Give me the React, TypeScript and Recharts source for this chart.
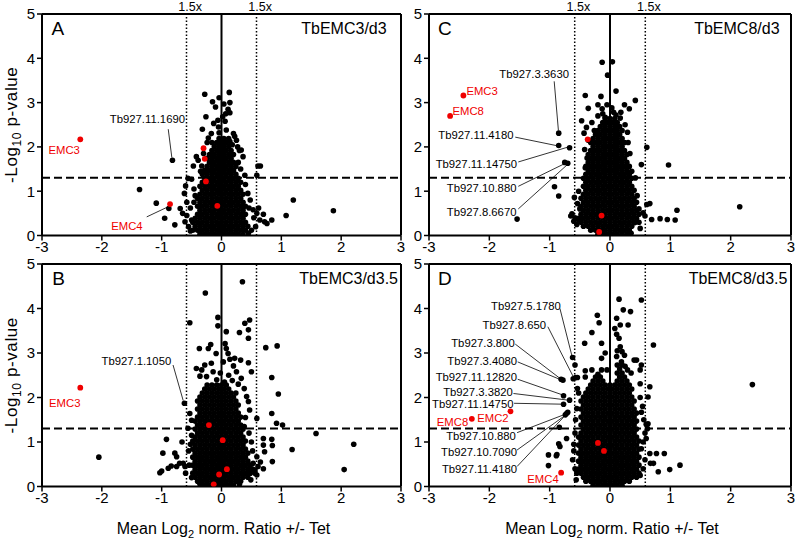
import React from 'react';
import { ScatterChart, Scatter, XAxis, YAxis, ReferenceLine, ReferenceDot } from 'recharts';

const FONT = '"Liberation Sans", Arial, Helvetica, sans-serif';
const xTicks = [-3, -2, -1, 0, 1, 2, 3];
const yTicks = [0, 1, 2, 3, 4, 5];
const foldChange = 0.585; // log2(1.5)
const pThreshold = 1.301; // -log10(0.05)

type Pt = [number, number];
type Row = [number, number[]];
type Note = { text: string; x: number; y: number; pos: 'left' | 'right' | 'center'; red?: boolean };
type Seg = [number, number, number, number];

// ---------- Panel A: TbEMC3/d3 ----------
const aCoreRows: Row[] = [
  [0.03, [-0.36, -0.28, -0.2, -0.12, -0.04, 0.04, 0.12, 0.2, 0.28]],
  [0.12, [-0.48, -0.4, -0.32, -0.24, -0.16, -0.08, 0, 0.08, 0.16, 0.24, 0.32, 0.4]],
  [0.21, [-0.44, -0.36, -0.28, -0.2, -0.12, -0.04, 0.04, 0.12, 0.2, 0.28, 0.36, 0.44]],
  [0.3, [-0.48, -0.4, -0.32, -0.24, -0.16, -0.08, 0, 0.08, 0.16, 0.24, 0.32, 0.4]],
  [0.39, [-0.44, -0.36, -0.28, -0.2, -0.12, -0.04, 0.04, 0.12, 0.2, 0.28, 0.36]],
  [0.48, [-0.4, -0.32, -0.24, -0.16, -0.08, 0, 0.08, 0.16, 0.24, 0.32, 0.4]],
  [0.57, [-0.36, -0.28, -0.2, -0.12, -0.04, 0.04, 0.12, 0.2, 0.28, 0.36]],
  [0.66, [-0.4, -0.32, -0.24, -0.16, -0.08, 0, 0.08, 0.16, 0.24, 0.32, 0.4]],
  [0.75, [-0.36, -0.28, -0.2, -0.12, -0.04, 0.04, 0.12, 0.2, 0.28, 0.36]],
  [0.84, [-0.4, -0.32, -0.24, -0.16, -0.08, 0, 0.08, 0.16, 0.24, 0.32]],
  [0.93, [-0.36, -0.28, -0.2, -0.12, -0.04, 0.04, 0.12, 0.2, 0.28, 0.36]],
  [1.02, [-0.32, -0.24, -0.16, -0.08, 0, 0.08, 0.16, 0.24, 0.32]],
  [1.11, [-0.36, -0.28, -0.2, -0.12, -0.04, 0.04, 0.12, 0.2, 0.28]],
  [1.2, [-0.32, -0.24, -0.16, -0.08, 0, 0.08, 0.16, 0.24, 0.32]],
  [1.29, [-0.28, -0.2, -0.12, -0.04, 0.04, 0.12, 0.2, 0.28]],
  [1.38, [-0.32, -0.24, -0.16, -0.08, 0, 0.08, 0.16, 0.24]],
  [1.47, [-0.28, -0.2, -0.12, -0.04, 0.04, 0.12, 0.2]],
  [1.56, [-0.24, -0.16, -0.08, 0, 0.08, 0.16, 0.24]],
  [1.65, [-0.2, -0.12, -0.04, 0.04, 0.12, 0.2]],
  [1.74, [-0.24, -0.16, -0.08, 0, 0.08, 0.16]],
  [1.83, [-0.2, -0.12, -0.04, 0.04, 0.12, 0.2]],
  [1.92, [-0.16, -0.08, 0, 0.08, 0.16]],
  [2.01, [-0.12, -0.04, 0.04, 0.12]],
  [2.1, [-0.16, -0.08, 0, 0.08]],
  [2.19, [-0.04, 0.04, 0.12]],
];
const aBlack: Pt[] = [
  [-0.28, 3.19], [0.13, 3.23], [-0.04, 3.11], [-0.15, 3.02], [0.14, 3.0], [0.11, 2.85], [-0.26, 2.68], [0.07, 2.75],
  [0.14, 2.77], [-0.06, 2.6], [0.06, 2.58], [-0.13, 2.53], [-0.32, 2.4], [-0.17, 2.3], [-0.04, 2.32], [0.08, 2.38],
  [0.22, 2.24], [0.25, 2.15], [0.14, 2.12], [-0.05, 2.45], [0.2, 2.3], [0.02, 2.68], [-0.22, 2.2], [-0.1, 2.9],
  [0.04, 2.97], [-0.24, 2.1], [0.18, 2.05], [0.27, 2.0], [0.3, 1.92],
  [-0.42, 1.78], [-0.39, 1.7], [-0.47, 1.57], [-0.33, 1.57], [0.36, 1.78], [0.33, 1.93], [0.61, 1.57], [0.65, 1.57],
  [0.59, 1.36], [0.39, 1.36], [-0.56, 1.29], [-0.5, 1.27], [-0.6, 1.12], [-0.46, 1.05], [-0.44, 0.9], [0.4, 1.15],
  [0.44, 0.95], [0.48, 0.8], [0.46, 0.62], [-0.46, 0.75], [-0.52, 0.62], [-0.35, 1.45], [0.32, 1.5], [-0.3, 1.85], [0.28, 1.65],
  [-0.82, 1.7], [-1.37, 1.04], [-1.09, 0.73], [-0.88, 0.61], [-0.95, 0.39], [-0.78, 0.24], [-0.69, 0.61], [-0.65, 0.5],
  [-0.61, 0.31], [-0.55, 0.2], [-0.58, 0.45], [-0.62, 0.95], [-0.58, 0.75], [1.2, 0.8], [1.08, 0.45], [1.87, 0.56],
  [0.7, 0.48], [0.72, 0.31], [0.84, 0.35], [0.76, 0.27], [0.62, 0.62], [0.57, 0.2], [0.54, 0.4], [0.5, 0.12],
  [0.53, 0.58], [0.59, 0.5], [0.64, 0.35], [-0.5, 0.35], [-0.52, 0.1], [0.45, 0.05], [0.36, 0.02],
];
const aRed: Pt[] = [[-2.36, 2.17], [-0.86, 0.71], [-0.3, 1.97], [-0.28, 1.73], [-0.26, 1.22], [-0.07, 0.67]];
const aNotes: Note[] = [
  { text: 'Tb927.11.1690', x: -0.61, y: 2.63, pos: 'left' },
  { text: 'EMC3', x: -2.63, y: 1.92, pos: 'center', red: true },
  { text: 'EMC4', x: -1.58, y: 0.21, pos: 'center', red: true },
];
const aLeaders: Seg[] = [[-0.89, 2.4, -0.83, 1.76], [-1.25, 0.42, -0.89, 0.65]];

// ---------- Panel B: TbEMC3/d3.5 ----------
const bCoreRows: Row[] = [
  [0.03, [-0.28, -0.2, -0.12, -0.04, 0.04, 0.12, 0.2]],
  [0.12, [-0.4, -0.32, -0.24, -0.16, -0.08, 0, 0.08, 0.16, 0.24, 0.32]],
  [0.21, [-0.44, -0.36, -0.28, -0.2, -0.12, -0.04, 0.04, 0.12, 0.2, 0.28, 0.36, 0.44]],
  [0.3, [-0.48, -0.4, -0.32, -0.24, -0.16, -0.08, 0, 0.08, 0.16, 0.24, 0.32, 0.4, 0.48, 0.56]],
  [0.39, [-0.44, -0.36, -0.28, -0.2, -0.12, -0.04, 0.04, 0.12, 0.2, 0.28, 0.36, 0.44, 0.52]],
  [0.48, [-0.48, -0.4, -0.32, -0.24, -0.16, -0.08, 0, 0.08, 0.16, 0.24, 0.32, 0.4, 0.48]],
  [0.57, [-0.44, -0.36, -0.28, -0.2, -0.12, -0.04, 0.04, 0.12, 0.2, 0.28, 0.36, 0.44]],
  [0.66, [-0.48, -0.4, -0.32, -0.24, -0.16, -0.08, 0, 0.08, 0.16, 0.24, 0.32, 0.4]],
  [0.75, [-0.44, -0.36, -0.28, -0.2, -0.12, -0.04, 0.04, 0.12, 0.2, 0.28, 0.36, 0.44]],
  [0.84, [-0.48, -0.4, -0.32, -0.24, -0.16, -0.08, 0, 0.08, 0.16, 0.24, 0.32, 0.4]],
  [0.93, [-0.44, -0.36, -0.28, -0.2, -0.12, -0.04, 0.04, 0.12, 0.2, 0.28, 0.36]],
  [1.02, [-0.48, -0.4, -0.32, -0.24, -0.16, -0.08, 0, 0.08, 0.16, 0.24, 0.32, 0.4]],
  [1.11, [-0.44, -0.36, -0.28, -0.2, -0.12, -0.04, 0.04, 0.12, 0.2, 0.28, 0.36]],
  [1.2, [-0.4, -0.32, -0.24, -0.16, -0.08, 0, 0.08, 0.16, 0.24, 0.32]],
  [1.29, [-0.44, -0.36, -0.28, -0.2, -0.12, -0.04, 0.04, 0.12, 0.2, 0.28, 0.36]],
  [1.38, [-0.4, -0.32, -0.24, -0.16, -0.08, 0, 0.08, 0.16, 0.24, 0.32]],
  [1.47, [-0.44, -0.36, -0.28, -0.2, -0.12, -0.04, 0.04, 0.12, 0.2, 0.28]],
  [1.56, [-0.4, -0.32, -0.24, -0.16, -0.08, 0, 0.08, 0.16, 0.24, 0.32]],
  [1.65, [-0.36, -0.28, -0.2, -0.12, -0.04, 0.04, 0.12, 0.2, 0.28]],
  [1.74, [-0.4, -0.32, -0.24, -0.16, -0.08, 0, 0.08, 0.16, 0.24]],
  [1.83, [-0.36, -0.28, -0.2, -0.12, -0.04, 0.04, 0.12, 0.2, 0.28]],
  [1.92, [-0.4, -0.32, -0.24, -0.16, -0.08, 0, 0.08, 0.16, 0.24]],
  [2.01, [-0.36, -0.28, -0.2, -0.12, -0.04, 0.04, 0.12, 0.2]],
  [2.1, [-0.32, -0.24, -0.16, -0.08, 0, 0.08, 0.16, 0.24]],
  [2.19, [-0.28, -0.2, -0.12, -0.04, 0.04, 0.12]],
  [2.28, [-0.24, -0.16, -0.08, 0, 0.08]],
];
const bBlack: Pt[] = [
  [-0.53, 3.68], [-0.27, 4.35], [0.35, 4.6], [-0.06, 3.8], [-0.06, 3.61], [0.08, 3.48], [0.39, 3.67], [0.47, 3.74],
  [0.3, 3.46], [0.45, 3.52], [0.45, 3.33], [-0.37, 3.1], [-0.22, 3.1], [-0.18, 3.19], [-0.09, 2.99], [0.06, 3.21],
  [0.08, 3.1], [0.11, 2.99], [0.14, 2.86], [0.22, 2.88], [0.32, 2.84], [0.45, 2.78], [0.2, 2.71], [0.03, 2.8],
  [-0.42, 2.65], [-0.33, 2.62], [-0.28, 2.73], [-0.17, 2.77], [-0.14, 2.58], [-0.25, 2.47], [-0.36, 2.48], [0.25, 2.58],
  [0.33, 2.43], [0.5, 2.58], [-0.02, 2.55], [0.12, 2.5], [0.18, 2.38], [-0.08, 2.4], [0.05, 2.35], [0.28, 2.3], [0.38, 2.2],
  [0.74, 3.12], [0.93, 3.16], [0.84, 2.45], [0.95, 2.08], [0.84, 1.64], [0.92, 1.42], [1.02, 1.38], [1.58, 1.19],
  [1.18, 0.83], [2.21, 0.95], [2.05, 0.38], [-2.05, 0.66],
  [0.42, 2.02], [0.45, 1.91], [0.47, 1.72], [0.59, 1.53], [0.4, 1.55], [0.38, 1.35],
  [-0.62, 1.87], [-0.53, 1.64], [-0.5, 1.49], [-0.56, 1.31], [-0.5, 1.15], [-0.52, 0.95], [-0.55, 0.8],
  [-0.92, 1.06], [-0.66, 1.0], [-0.98, 0.75], [-0.78, 0.75], [-0.75, 0.67], [-0.64, 0.52], [-1.0, 0.35], [-1.03, 0.31],
  [-0.89, 0.41], [-0.75, 0.45], [-0.84, 0.46], [-0.7, 0.52], [-0.61, 0.45], [-0.54, 0.48], [-0.6, 0.3], [-0.5, 0.2],
  [0.7, 1.08], [0.84, 1.06], [0.7, 0.93], [0.85, 0.92], [0.72, 0.78], [0.85, 0.56], [0.59, 0.67], [0.53, 0.52],
  [0.61, 0.45], [0.56, 0.37], [0.47, 0.3], [0.59, 0.26], [0.49, 0.15], [0.52, 0.8], [0.5, 1.0], [0.46, 1.2],
  [0.65, 0.55], [0.7, 0.4], [0.3, 0.05], [-0.36, 0.05],
];
const bRed: Pt[] = [[-2.36, 2.22], [-0.21, 1.38], [0.02, 1.04], [0.09, 0.39], [-0.04, 0.27], [-0.13, 0.05]];
const bNotes: Note[] = [
  { text: 'Tb927.1.1050', x: -0.84, y: 2.83, pos: 'left' },
  { text: 'EMC3', x: -2.62, y: 1.88, pos: 'center', red: true },
];
const bLeaders: Seg[] = [[-0.81, 2.73, -0.64, 1.93]];

// ---------- Panel C: TbEMC8/d3 ----------
const cCoreRows: Row[] = [
  [0.03, [-0.2, -0.12, -0.04, 0.04, 0.12, 0.2, 0.28]],
  [0.12, [-0.32, -0.24, -0.16, -0.08, 0, 0.08, 0.16, 0.24, 0.32]],
  [0.21, [-0.44, -0.36, -0.28, -0.2, -0.12, -0.04, 0.04, 0.12, 0.2, 0.28, 0.36]],
  [0.3, [-0.48, -0.4, -0.32, -0.24, -0.16, -0.08, 0, 0.08, 0.16, 0.24, 0.32, 0.4, 0.48]],
  [0.39, [-0.52, -0.44, -0.36, -0.28, -0.2, -0.12, -0.04, 0.04, 0.12, 0.2, 0.28, 0.36, 0.44]],
  [0.48, [-0.48, -0.4, -0.32, -0.24, -0.16, -0.08, 0, 0.08, 0.16, 0.24, 0.32, 0.4, 0.48]],
  [0.57, [-0.44, -0.36, -0.28, -0.2, -0.12, -0.04, 0.04, 0.12, 0.2, 0.28, 0.36, 0.44]],
  [0.66, [-0.48, -0.4, -0.32, -0.24, -0.16, -0.08, 0, 0.08, 0.16, 0.24, 0.32, 0.4]],
  [0.75, [-0.44, -0.36, -0.28, -0.2, -0.12, -0.04, 0.04, 0.12, 0.2, 0.28, 0.36, 0.44]],
  [0.84, [-0.48, -0.4, -0.32, -0.24, -0.16, -0.08, 0, 0.08, 0.16, 0.24, 0.32, 0.4]],
  [0.93, [-0.44, -0.36, -0.28, -0.2, -0.12, -0.04, 0.04, 0.12, 0.2, 0.28, 0.36]],
  [1.02, [-0.4, -0.32, -0.24, -0.16, -0.08, 0, 0.08, 0.16, 0.24, 0.32, 0.4]],
  [1.11, [-0.44, -0.36, -0.28, -0.2, -0.12, -0.04, 0.04, 0.12, 0.2, 0.28, 0.36]],
  [1.2, [-0.4, -0.32, -0.24, -0.16, -0.08, 0, 0.08, 0.16, 0.24, 0.32]],
  [1.29, [-0.44, -0.36, -0.28, -0.2, -0.12, -0.04, 0.04, 0.12, 0.2, 0.28, 0.36]],
  [1.38, [-0.4, -0.32, -0.24, -0.16, -0.08, 0, 0.08, 0.16, 0.24, 0.32]],
  [1.47, [-0.36, -0.28, -0.2, -0.12, -0.04, 0.04, 0.12, 0.2, 0.28]],
  [1.56, [-0.4, -0.32, -0.24, -0.16, -0.08, 0, 0.08, 0.16, 0.24, 0.32]],
  [1.65, [-0.36, -0.28, -0.2, -0.12, -0.04, 0.04, 0.12, 0.2, 0.28]],
  [1.74, [-0.32, -0.24, -0.16, -0.08, 0, 0.08, 0.16, 0.24]],
  [1.83, [-0.36, -0.28, -0.2, -0.12, -0.04, 0.04, 0.12, 0.2, 0.28]],
  [1.92, [-0.32, -0.24, -0.16, -0.08, 0, 0.08, 0.16, 0.24]],
  [2.01, [-0.28, -0.2, -0.12, -0.04, 0.04, 0.12, 0.2]],
  [2.1, [-0.32, -0.24, -0.16, -0.08, 0, 0.08, 0.16, 0.24]],
  [2.19, [-0.28, -0.2, -0.12, -0.04, 0.04, 0.12, 0.2]],
  [2.28, [-0.24, -0.16, -0.08, 0, 0.08, 0.16]],
  [2.37, [-0.2, -0.12, -0.04, 0.04, 0.12, 0.2]],
  [2.46, [-0.16, -0.08, 0, 0.08, 0.16]],
  [2.55, [-0.12, -0.04, 0.04, 0.12]],
  [2.64, [-0.08, 0, 0.08]],
];
const cBlack: Pt[] = [
  [-0.13, 3.91], [0.04, 3.92], [-0.04, 3.62], [-0.41, 3.16], [-0.15, 3.14], [0.1, 3.26], [0.42, 3.05], [-0.36, 2.87],
  [-0.13, 2.86], [0.03, 2.88], [0.24, 2.95], [0.32, 2.86], [-0.47, 2.59], [-0.39, 2.44], [-0.43, 2.31], [-0.26, 2.37],
  [-0.08, 2.67], [0.29, 2.33], [0.17, 2.65], [-0.42, 1.94], [0.61, 1.99], [0.52, 1.6], [0.97, 1.59], [-0.41, 1.53],
  [-0.05, 2.95], [0.18, 2.78], [-0.2, 2.7], [0.06, 2.78], [0.25, 2.5], [-0.3, 2.55], [-0.2, 2.95], [0.1, 2.72],
  [-0.12, 2.75], [0.3, 2.1], [-0.36, 2.15], [0.33, 1.85], [-0.38, 1.75], [0.36, 1.45],
  [-0.59, 0.86], [-0.54, 0.72], [-0.63, 0.49], [-0.58, 0.4], [-0.52, 0.35], [-0.6, 0.32], [-0.55, 0.25], [-0.5, 0.6], [-0.52, 1.0],
  [0.61, 0.7], [0.66, 0.72], [0.55, 0.51], [0.58, 0.44], [0.69, 0.36], [0.83, 0.38], [0.95, 0.36], [1.08, 0.35],
  [1.11, 0.57], [0.5, 0.16], [0.41, 0.29], [0.48, 0.6], [0.45, 0.9], [0.42, 1.3], [0.35, 0.05],
  [-0.85, 2.31], [-0.85, 2.03], [-0.67, 1.98], [-0.75, 1.65], [-0.7, 1.63], [-0.92, 1.1], [-0.85, 0.89], [-1.54, 0.37],
  [2.15, 0.65], [-0.65, 0.44],
];
const cRed: Pt[] = [[-2.43, 3.16], [-2.65, 2.7], [-0.37, 2.17], [-0.14, 0.45], [-0.18, 0.08]];
const cNotes: Note[] = [
  { text: 'Tb927.3.3630', x: -0.68, y: 3.65, pos: 'left' },
  { text: 'EMC3', x: -2.38, y: 3.27, pos: 'right', red: true },
  { text: 'EMC8', x: -2.61, y: 2.8, pos: 'right', red: true },
  { text: 'Tb927.11.4180', x: -1.6, y: 2.26, pos: 'left' },
  { text: 'Tb927.11.14750', x: -1.54, y: 1.62, pos: 'left' },
  { text: 'Tb927.10.880', x: -1.55, y: 1.08, pos: 'left' },
  { text: 'Tb927.8.6670', x: -1.55, y: 0.53, pos: 'left' },
];
const cLeaders: Seg[] = [
  [-0.925, 3.48, -0.855, 2.37], [-1.57, 2.22, -0.89, 2.03], [-1.52, 1.66, -0.71, 1.99],
  [-1.52, 1.11, -0.74, 1.63], [-1.52, 0.6, -0.69, 1.62],
];

// ---------- Panel D: TbEMC8/d3.5 ----------
const dCoreRows: Row[] = [
  [0.03, [-0.28, -0.2, -0.12, -0.04, 0.04, 0.12, 0.2]],
  [0.12, [-0.4, -0.32, -0.24, -0.16, -0.08, 0, 0.08, 0.16, 0.24, 0.32]],
  [0.21, [-0.44, -0.36, -0.28, -0.2, -0.12, -0.04, 0.04, 0.12, 0.2, 0.28, 0.36, 0.44]],
  [0.3, [-0.48, -0.4, -0.32, -0.24, -0.16, -0.08, 0, 0.08, 0.16, 0.24, 0.32, 0.4, 0.48]],
  [0.39, [-0.52, -0.44, -0.36, -0.28, -0.2, -0.12, -0.04, 0.04, 0.12, 0.2, 0.28, 0.36, 0.44]],
  [0.48, [-0.48, -0.4, -0.32, -0.24, -0.16, -0.08, 0, 0.08, 0.16, 0.24, 0.32, 0.4, 0.48]],
  [0.57, [-0.52, -0.44, -0.36, -0.28, -0.2, -0.12, -0.04, 0.04, 0.12, 0.2, 0.28, 0.36, 0.44]],
  [0.66, [-0.48, -0.4, -0.32, -0.24, -0.16, -0.08, 0, 0.08, 0.16, 0.24, 0.32, 0.4, 0.48]],
  [0.75, [-0.52, -0.44, -0.36, -0.28, -0.2, -0.12, -0.04, 0.04, 0.12, 0.2, 0.28, 0.36, 0.44]],
  [0.84, [-0.48, -0.4, -0.32, -0.24, -0.16, -0.08, 0, 0.08, 0.16, 0.24, 0.32, 0.4, 0.48]],
  [0.93, [-0.52, -0.44, -0.36, -0.28, -0.2, -0.12, -0.04, 0.04, 0.12, 0.2, 0.28, 0.36, 0.44]],
  [1.02, [-0.48, -0.4, -0.32, -0.24, -0.16, -0.08, 0, 0.08, 0.16, 0.24, 0.32, 0.4, 0.48]],
  [1.11, [-0.52, -0.44, -0.36, -0.28, -0.2, -0.12, -0.04, 0.04, 0.12, 0.2, 0.28, 0.36, 0.44]],
  [1.2, [-0.48, -0.4, -0.32, -0.24, -0.16, -0.08, 0, 0.08, 0.16, 0.24, 0.32, 0.4]],
  [1.29, [-0.44, -0.36, -0.28, -0.2, -0.12, -0.04, 0.04, 0.12, 0.2, 0.28, 0.36, 0.44]],
  [1.38, [-0.48, -0.4, -0.32, -0.24, -0.16, -0.08, 0, 0.08, 0.16, 0.24, 0.32, 0.4]],
  [1.47, [-0.44, -0.36, -0.28, -0.2, -0.12, -0.04, 0.04, 0.12, 0.2, 0.28, 0.36, 0.44]],
  [1.56, [-0.48, -0.4, -0.32, -0.24, -0.16, -0.08, 0, 0.08, 0.16, 0.24, 0.32, 0.4]],
  [1.65, [-0.44, -0.36, -0.28, -0.2, -0.12, -0.04, 0.04, 0.12, 0.2, 0.28, 0.36, 0.44]],
  [1.74, [-0.48, -0.4, -0.32, -0.24, -0.16, -0.08, 0, 0.08, 0.16, 0.24, 0.32, 0.4]],
  [1.83, [-0.44, -0.36, -0.28, -0.2, -0.12, -0.04, 0.04, 0.12, 0.2, 0.28, 0.36]],
  [1.92, [-0.48, -0.4, -0.32, -0.24, -0.16, -0.08, 0, 0.08, 0.16, 0.24, 0.32, 0.4]],
  [2.01, [-0.44, -0.36, -0.28, -0.2, -0.12, -0.04, 0.04, 0.12, 0.2, 0.28, 0.36]],
  [2.1, [-0.4, -0.32, -0.24, -0.16, -0.08, 0, 0.08, 0.16, 0.24, 0.32]],
  [2.19, [-0.36, -0.28, -0.2, -0.12, -0.04, 0.04, 0.12, 0.2, 0.28, 0.36]],
  [2.28, [-0.32, -0.24, -0.16, -0.08, 0, 0.08, 0.16, 0.24, 0.32]],
  [2.37, [-0.28, -0.2, -0.12, 0.12, 0.2, 0.28]],
  [2.46, [-0.24, -0.16, 0.16, 0.24]],
  [2.55, [0.12, 0.2]],
  [2.64, [0.16]],
  [2.73, [0.12, 0.2]],
];
const dBlack: Pt[] = [
  [-0.21, 3.85], [-0.18, 3.68], [-0.3, 3.46], [-0.42, 3.22], [-0.14, 3.22], [0.22, 3.97], [0.15, 4.21], [0.52, 4.19],
  [0.34, 3.93], [0.11, 3.78], [0.17, 3.63], [0.3, 3.63], [0.11, 3.42], [0.15, 3.33], [0.72, 3.18], [0.17, 3.14],
  [0.2, 3.03], [0.11, 2.92], [0.19, 2.8], [0.44, 2.84], [0.5, 2.62], [0.29, 2.62], [-0.3, 2.62], [-0.14, 2.62],
  [-0.41, 2.6], [-0.54, 2.45], [-0.14, 2.88], [0.4, 2.84], [0.52, 2.73], [-0.41, 2.46], [0.5, 2.31], [0.66, 2.24],
  [0.63, 2.01], [0.52, 1.67], [0.63, 1.41], [0.25, 2.7], [-0.05, 2.62], [-0.2, 2.52], [0.35, 2.55], [0.12, 3.05],
  [0.24, 2.95], [0.08, 3.55], [-0.08, 3.0],
  [-0.62, 2.9], [-0.58, 2.73], [-0.61, 2.42], [-0.57, 2.45], [-0.81, 2.41], [-0.78, 2.39], [-0.77, 2.04], [-0.67, 1.94],
  [-0.77, 1.85], [-0.72, 1.64], [-0.74, 1.61], [-0.7, 1.67], [-0.84, 1.33], [-0.72, 1.08], [-0.83, 0.9], [-0.85, 0.96],
  [-1.02, 0.71], [-0.89, 0.69], [-0.88, 0.72], [-1.02, 0.47],
  [-0.58, 1.2], [-0.6, 0.95], [-0.62, 0.6], [-0.58, 0.4], [-0.55, 0.3], [-0.6, 0.8], [-0.57, 1.5], [-0.55, 1.75],
  [-0.52, 2.1], [-0.56, 0.15], [-0.54, 2.2],
  [2.36, 2.29], [0.56, 1.5], [0.6, 1.4], [0.6, 1.08], [0.58, 1.2], [0.66, 0.74], [0.77, 0.74], [0.9, 0.74],
  [0.67, 0.52], [0.72, 0.52], [0.8, 0.33], [0.99, 0.38], [1.16, 0.48], [0.62, 1.3], [0.55, 1.0], [0.52, 0.85],
  [0.55, 0.4], [0.5, 0.25], [0.58, 0.6], [0.54, 1.8], [0.5, 2.0],
];
const dRed: Pt[] = [[-2.29, 1.52], [-1.65, 1.69], [-0.81, 0.31], [-0.2, 0.98], [-0.1, 0.8]];
const dNotes: Note[] = [
  { text: 'Tb927.5.1780', x: -0.815, y: 4.06, pos: 'left' },
  { text: 'Tb927.8.650', x: -1.06, y: 3.63, pos: 'left' },
  { text: 'Tb927.3.800', x: -1.58, y: 3.22, pos: 'left' },
  { text: 'Tb927.3.4080', x: -1.54, y: 2.82, pos: 'left' },
  { text: 'Tb927.11.12820', x: -1.54, y: 2.45, pos: 'left' },
  { text: 'Tb927.3.3820', x: -1.61, y: 2.13, pos: 'left' },
  { text: 'Tb927.11.14750', x: -1.6, y: 1.85, pos: 'left' },
  { text: 'Tb927.10.880', x: -1.56, y: 1.14, pos: 'left' },
  { text: 'Tb927.10.7090', x: -1.54, y: 0.77, pos: 'left' },
  { text: 'Tb927.11.4180', x: -1.54, y: 0.39, pos: 'left' },
  { text: 'EMC8', x: -2.35, y: 1.44, pos: 'left', red: true },
  { text: 'EMC2', x: -2.2, y: 1.54, pos: 'right', red: true },
  { text: 'EMC4', x: -0.85, y: 0.18, pos: 'left', red: true },
];
const dLeaders: Seg[] = [
  [-0.83, 4.0, -0.63, 2.93], [-1.03, 3.59, -0.61, 2.47], [-1.57, 3.2, -0.83, 2.43], [-1.53, 2.8, -0.8, 2.39],
  [-1.53, 2.41, -0.79, 2.06], [-1.6, 2.09, -0.69, 1.94], [-1.59, 1.87, -0.79, 1.85], [-1.54, 1.21, -0.73, 1.63],
  [-1.54, 0.82, -0.72, 1.62], [-1.54, 0.45, -0.74, 1.6],
];

type PanelDef = {
  left: number; top: number; width: number; height: number;
  margin: { top: number; right: number; bottom: number; left: number };
  letter: string; letterX: number; title: string; titleX: number;
  core: Row[]; black: Pt[]; red: Pt[]; notes: Note[]; leaders: Seg[];
  yTitle: boolean; xTitle: boolean; foldLabels: boolean;
};

const panels: PanelDef[] = [
  { left: 0, top: 0, width: 420, height: 260, margin: { top: 14, right: 19, bottom: 4.5, left: 2 },
    letter: 'A', letterX: -2.84, title: 'TbEMC3/d3', titleX: 2.76,
    core: aCoreRows, black: aBlack, red: aRed, notes: aNotes, leaders: aLeaders, yTitle: true, xTitle: false, foldLabels: true },
  { left: 0, top: 250, width: 420, height: 289, margin: { top: 14, right: 19, bottom: 32.5, left: 2 },
    letter: 'B', letterX: -2.83, title: 'TbEMC3/d3.5', titleX: 2.95,
    core: bCoreRows, black: bBlack, red: bRed, notes: bNotes, leaders: bLeaders, yTitle: true, xTitle: true, foldLabels: false },
  { left: 385, top: 0, width: 410, height: 260, margin: { top: 14, right: 4, bottom: 4.5, left: 4 },
    letter: 'C', letterX: -2.85, title: 'TbEMC8/d3', titleX: 2.81,
    core: cCoreRows, black: cBlack, red: cRed, notes: cNotes, leaders: cLeaders, yTitle: false, xTitle: false, foldLabels: true },
  { left: 385, top: 250, width: 410, height: 289, margin: { top: 14, right: 4, bottom: 32.5, left: 4 },
    letter: 'D', letterX: -2.85, title: 'TbEMC8/d3.5', titleX: 2.94,
    core: dCoreRows, black: dBlack, red: dRed, notes: dNotes, leaders: dLeaders, yTitle: false, xTitle: true, foldLabels: false },
];

const RED = '#f00000';

const blackDot = (p: any) => (p.cx == null ? <g /> : <circle cx={p.cx} cy={p.cy} r={2.8} fill="#000" />);
const redDot = (p: any) => (p.cx == null ? <g /> : <circle cx={p.cx} cy={p.cy} r={2.9} fill={RED} />);

const xTitleLabel = (props: any) => {
  const vb = props.viewBox || { x: 0, y: 0, width: 0 };
  const cx = vb.x + vb.width / 2 + 2;
  const y = vb.y + 47.5;
  return (
    <text x={cx} y={y} textAnchor="middle" fontSize={16} fill="#000" fontFamily={FONT}>
      Mean Log<tspan fontSize={11} dy={4}>2</tspan><tspan dy={-4}>{' norm. Ratio +/- Tet'}</tspan>
    </text>
  );
};

const yTitleLabel = (props: any) => {
  const vb = props.viewBox || { x: 0, y: 0, height: 0 };
  const x = vb.x + 15;
  const y = vb.y + vb.height / 2;
  return (
    <text x={x} y={y} transform={`rotate(-90 ${x} ${y})`} textAnchor="middle" fontSize={17} fill="#000"
      letterSpacing={0.6} fontFamily={FONT}>
      -Log<tspan fontSize={12} dy={4}>10</tspan><tspan dy={-4}>{' p-value'}</tspan>
    </text>
  );
};

function Panel({ d }: { d: PanelDef }) {
  const blackData = [
    ...d.core.flatMap(([y, xs]) => xs.map((x) => ({ x, y }))),
    ...d.black.map(([x, y]) => ({ x, y })),
  ];
  const redData = d.red.map(([x, y]) => ({ x, y }));
  return (
    <div style={{ position: 'absolute', left: d.left, top: d.top }}>
      <ScatterChart width={d.width} height={d.height} margin={d.margin}>
        <XAxis type="number" dataKey="x" domain={[-3, 3]} ticks={xTicks} interval={0} allowDataOverflow
          axisLine={{ stroke: '#000', strokeWidth: 2 }} tickLine={{ stroke: '#000', strokeWidth: 1.5 }}
          tickSize={5} tickMargin={1} tick={{ fill: '#000', fontSize: 15 }} height={20}
          label={d.xTitle ? xTitleLabel : undefined} />
        <YAxis type="number" dataKey="y" domain={[0, 5]} ticks={yTicks} interval={0} allowDataOverflow width={40}
          axisLine={{ stroke: '#000', strokeWidth: 2 }} tickLine={{ stroke: '#000', strokeWidth: 1.5 }}
          tickSize={5} tickMargin={2} tick={{ fill: '#000', fontSize: 15 }}
          label={d.yTitle ? yTitleLabel : undefined} />
        <ReferenceLine x={-foldChange} stroke="#000" strokeWidth={1.5} strokeDasharray="1.5 2" />
        <ReferenceLine x={foldChange} stroke="#000" strokeWidth={1.5} strokeDasharray="1.5 2" />
        <ReferenceLine x={0} stroke="#000" strokeWidth={2} />
        <ReferenceLine y={pThreshold} stroke="#000" strokeWidth={2} strokeDasharray="8 4" />
        <ReferenceLine y={5} stroke="#000" strokeWidth={2} />
        <ReferenceLine x={3} stroke="#000" strokeWidth={2} />
        {d.leaders.map((s, i) => (
          <ReferenceLine key={'l' + i} segment={[{ x: s[0], y: s[1] }, { x: s[2], y: s[3] }]} stroke="#000" strokeWidth={0.8} />
        ))}
        <Scatter data={blackData} shape={blackDot} isAnimationActive={false} />
        <Scatter data={redData} shape={redDot} isAnimationActive={false} />
        {d.notes.map((n, i) => (
          <ReferenceDot key={'n' + i} x={n.x} y={n.y} r={0} fill="none" stroke="none"
            label={{ value: n.text, position: n.pos, offset: 0, fill: n.red ? RED : '#000', fontSize: 11.3 }} />
        ))}
        <ReferenceDot x={d.letterX} y={4.67} r={0} fill="none" stroke="none"
          label={{ value: d.letter, position: 'right', offset: 0, fill: '#000', fontSize: 19 }} />
        <ReferenceDot x={d.titleX} y={4.67} r={0} fill="none" stroke="none"
          label={{ value: d.title, position: 'left', offset: 0, fill: '#000', fontSize: 16 }} />
        {d.foldLabels && (
          <ReferenceDot x={-foldChange + 0.06} y={5} r={0} fill="none" stroke="none" ifOverflow="visible"
            label={{ value: '1.5x', position: 'top', offset: 3, fill: '#000', fontSize: 12.5 }} />
        )}
        {d.foldLabels && (
          <ReferenceDot x={foldChange + 0.06} y={5} r={0} fill="none" stroke="none" ifOverflow="visible"
            label={{ value: '1.5x', position: 'top', offset: 3, fill: '#000', fontSize: 12.5 }} />
        )}
      </ScatterChart>
    </div>
  );
}

export default function App() {
  return (
    <div style={{ position: 'absolute', left: 0, top: 0, width: 795, height: 539, background: '#fff', fontFamily: FONT, overflow: 'hidden' }}>
      {panels.map((p) => (
        <Panel key={p.letter} d={p} />
      ))}
    </div>
  );
}
